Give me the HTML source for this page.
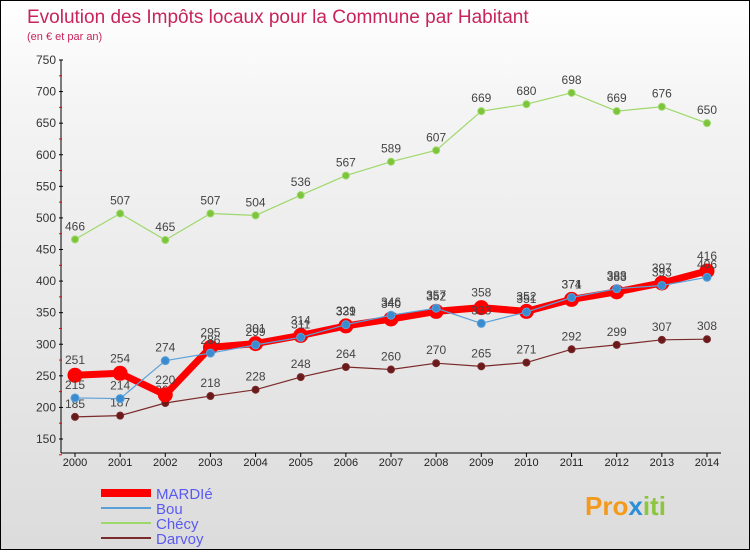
<!DOCTYPE html>
<html><head><meta charset="utf-8"><style>
body{margin:0;width:750px;height:550px;overflow:hidden;font-family:"Liberation Sans",sans-serif}
#wrap{position:relative;width:748px;height:548px;border:1px solid #000;background:linear-gradient(#fff,#f4f4f4 20%,#dcdcdc)}
svg text{font-family:"Liberation Sans",sans-serif}
</style></head><body>
<div id="wrap">
<svg id="c" width="748" height="548">
<text x="26" y="22" font-size="19" fill="#c8245a">Evolution des Impôts locaux pour la Commune par Habitant</text>
<text x="26" y="39" font-size="11" fill="#c8245a">(en € et par an)</text>
<g id="axes"></g><g id="series"></g><g id="legend"></g>
<text x="584" y="514" font-size="26" font-weight="bold" fill="#f39a1e">Pro<tspan fill="#2c8fd6">x</tspan><tspan fill="#8cc63f">iti</tspan></text>
</svg></div>
<script>
const years=[2000,2001,2002,2003,2004,2005,2006,2007,2008,2009,2010,2011,2012,2013,2014];
const yTicks=[150,200,250,300,350,400,450,500,550,600,650,700,750];
const mardie=[251,254,220,295,301,314,329,340,352,358,352,371,383,397,416];
const bou=[215,214,274,286,299,311,331,346,357,333,351,374,388,393,406];
const checy=[466,507,465,507,504,536,567,589,607,669,680,698,669,676,650];
const darvoy=[185,187,207,218,228,248,264,260,270,265,271,292,299,307,308];
const NS="http://www.w3.org/2000/svg";
const X=i=>74+i*(632/(years.length-1));
const Y=v=>59+(750-v)*(379/600);
function mk(t,a,p){const e=document.createElementNS(NS,t);for(const k in a)e.setAttribute(k,a[k]);p.appendChild(e);return e;}
const ax=document.getElementById('axes');
const yl=mk('line',{x1:60,y1:Y(750),x2:60,y2:452,stroke:'#000'},ax);


const xl=mk('line',{x1:60,y1:452,x2:720,y2:452,stroke:'#000'},ax);


yTicks.forEach(v=>{const t=mk('text',{x:55,y:Y(v)+4,'font-size':12,'text-anchor':'end',fill:'#333'},ax);t.textContent=v;


mk('line',{x1:58,x2:62,y1:Y(v),y2:Y(v),stroke:'#000'},ax);
mk('line',{x1:58,x2:61,y1:Y(v-25),y2:Y(v-25),stroke:'#e00'},ax);});
years.forEach((y,i)=>{const t=mk('text',{x:X(i),y:465,'font-size':11,'text-anchor':'middle',fill:'#222'},ax);t.textContent=y;


mk('line',{x1:X(i),x2:X(i),y1:452,y2:456,stroke:'#000'},ax);});
const sg=document.getElementById('series');
function series(name,vals,color,w,r,fill,labelDy){
const g=mk('g',{},sg);


const pl=mk('polyline',{points:vals.map((v,i)=>X(i)+','+Y(v)).join(' '),fill:'none',stroke:color,'stroke-width':w,'stroke-linejoin':'round'},g);


vals.forEach((v,i)=>{const c=mk('circle',{cx:X(i),cy:Y(v),r:r,fill:fill,stroke:color,'stroke-width':1},g);


const t=mk('text',{x:X(i),y:Y(v)-labelDy,'font-size':12,'text-anchor':'middle',fill:'#444'},g);t.textContent=v;

});}
series('checy',checy,'#9ed86a',1.2,3.5,'#7cc43c',9);
series('darvoy',darvoy,'#7a2a2a',1.2,3.5,'#6a1a1a',9);
series('mardie',mardie,'#f00',7,7,'#f00',11);
series('bou',bou,'#5aa0d8',1.2,4,'#3a8cd0',9);
const lg=document.getElementById('legend');
[['MARDIé','#f00',8],['Bou','#5aa0d8',2],['Chécy','#9ed86a',2],['Darvoy','#7a2a2a',2]].forEach((d,i)=>{
const y=492+i*15;
const l=mk('line',{x1:100,x2:150,y1:y,y2:y,stroke:d[1],'stroke-width':d[2]},lg);


const t=mk('text',{x:155,y:y+6,'font-size':15,fill:'#5a5af0'},lg);t.textContent=d[0];

});
</script></body></html>
